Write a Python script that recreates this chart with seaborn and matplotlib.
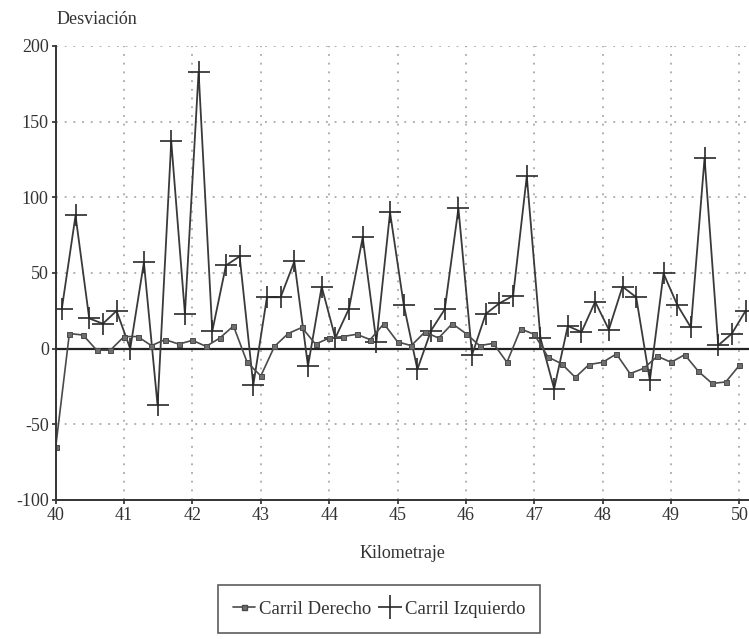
import numpy as np
import pandas as pd
import matplotlib
matplotlib.use("Agg")
import matplotlib.pyplot as plt
import seaborn as sns
from matplotlib.lines import Line2D

# ---- data ----
km_derecho = np.round(np.arange(40.0, 50.01, 0.2), 2)
km_izquierdo = np.round(km_derecho + 0.09, 2)

derecho = [-65, 10, 9, -1, -1, 8, 8, 2, 6, 3,
           5.5, 1.5, 7, 15, -9, -18, 1.5, 10, 14, 3,
           7, 8, 9.5, 6, 16.5, 4.5, 2, 11, 7, 16.5,
           10, 2, 3.5, -9, 13, 9.5, -5.5, -10, -19, -10.5,
           -9, -3.5, -16.5, -13, -5, -9, -4, -15, -23, -22,
           -11]

izquierdo = [26.5, 88, 20, 16.5, 25, 0, 57, -37.5, 137, 23,
             183, 11.5, 55, 61, -24, 34, 34, 57.6, -11.5, 41,
             7, 26.5, 73.5, 4.6, 90, 29, -13.7, 12, 26, 92.7,
             -4, 23, 30, 35, 114, 7, -26.5, 15, 11, 31,
             12.6, 41, 34, -21, 49.7, 29, 14, 126, 2.2, 10,
             25]

x_ticks = list(range(40, 51))
y_ticks = [-100, -50, 0, 50, 100, 150, 200]
series_names = ["Carril Derecho", "Carril Izquierdo"]

df_d = pd.DataFrame({"km": km_derecho, "dev": derecho})
df_i = pd.DataFrame({"km": km_izquierdo, "dev": izquierdo})

# ---- style ----
sns.set_theme(style="white")
plt.rcParams["font.family"] = ["Liberation Serif", "DejaVu Serif"]

fig = plt.figure(figsize=(7.49, 6.39), dpi=100)
ax = fig.add_axes([55.7 / 749, 1 - 500 / 639, 1 - 55.7 / 749, (500 - 46) / 639])

line_col = "#3a3a3a"

sns.lineplot(data=df_i, x="km", y="dev", ax=ax, color=line_col, lw=1.3,
             marker="+", markersize=16, markeredgewidth=1.2,
             markeredgecolor="#2a2a2a", legend=False, sort=False)
sns.lineplot(data=df_d, x="km", y="dev", ax=ax, color="#4a4a4a", lw=1.2,
             marker="s", markersize=3.6, markerfacecolor="#6e6e6e",
             markeredgecolor="#4a4a4a", markeredgewidth=0.7,
             legend=False, sort=False)

ax.axhline(0, color="#222222", lw=1.6, zorder=1)

ax.set_xlim(40, 50.14)
ax.set_ylim(-100, 200)
ax.set_xticks(x_ticks)
ax.set_yticks(y_ticks)
ax.set_xticklabels([str(t) for t in x_ticks])
ax.set_yticklabels([str(t) for t in y_ticks])
ax.grid(True, color="#9a9a9a", linestyle=(0, (1.2, 4.5)), lw=1.1)
ax.set_axisbelow(True)

for s in ["top", "right"]:
    ax.spines[s].set_visible(False)
for s in ["left", "bottom"]:
    ax.spines[s].set_color("#333333")
    ax.spines[s].set_linewidth(1.4)

ax.tick_params(axis="both", labelsize=13, colors="#333333", length=3,
               direction="out", left=True, bottom=True, pad=2)
ax.set_xlabel("")
ax.set_ylabel("")

fig.text(57 / 749, 1 - 20 / 639, "Desviación", fontsize=13,
         color="#333333", ha="left", va="center")
fig.text(402 / 749, 1 - 553 / 639, "Kilometraje", fontsize=13,
         color="#333333", ha="center", va="center")

handles = [
    Line2D([], [], color="#4a4a4a", lw=1.2, marker="s", markersize=3.6,
           markerfacecolor="#6e6e6e", markeredgecolor="#4a4a4a"),
    Line2D([], [], color="none", marker="+", markersize=17,
           markeredgewidth=1.2, markeredgecolor="#2a2a2a"),
]
leg = fig.legend(handles, series_names, loc="center", ncol=2,
                 bbox_to_anchor=(379 / 749, 1 - 609 / 639),
                 fontsize=13.5, frameon=True, fancybox=False,
                 edgecolor="#333333", handlelength=1.2, handletextpad=0.2,
                 columnspacing=0.4, borderpad=0.8, borderaxespad=0)
leg.get_frame().set_linewidth(1.2)
for t in leg.get_texts():
    t.set_color("#333333")

fig.savefig("out.png", dpi=100)
